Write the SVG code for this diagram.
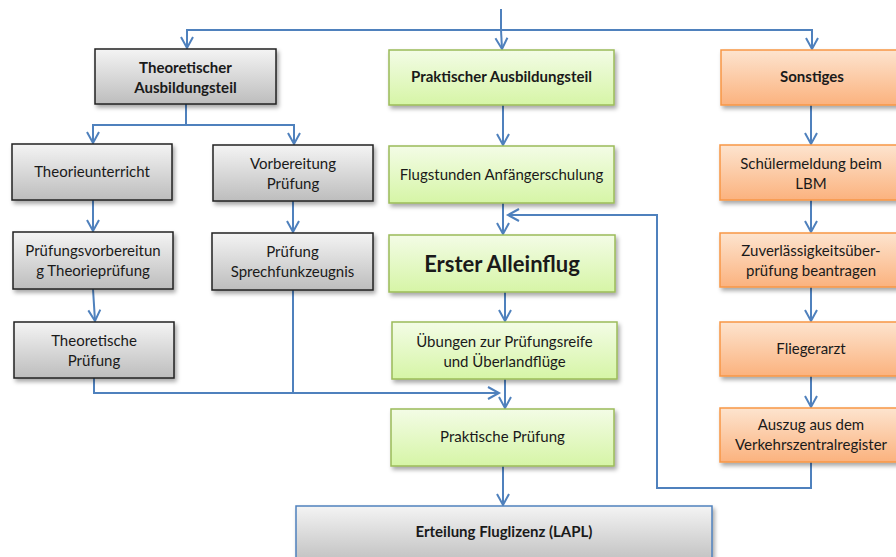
<svg xmlns="http://www.w3.org/2000/svg" width="896" height="557" viewBox="0 0 896 557">
<defs>
<linearGradient id="gGray" x1="0" y1="0" x2="0" y2="1"><stop offset="0" stop-color="#f4f4f4"/><stop offset="1" stop-color="#bdbdbd"/></linearGradient>
<linearGradient id="gGreen" x1="0" y1="0" x2="0" y2="1"><stop offset="0" stop-color="#f3fce6"/><stop offset="1" stop-color="#d6f5a6"/></linearGradient>
<linearGradient id="gOrange" x1="0" y1="0" x2="0" y2="1"><stop offset="0" stop-color="#fde4cf"/><stop offset="1" stop-color="#fbb27e"/></linearGradient>
<filter id="sh" x="-10%" y="-10%" width="130%" height="140%"><feDropShadow dx="2" dy="3" stdDeviation="2" flood-color="#000" flood-opacity="0.35"/></filter>
<marker id="ah" viewBox="0 0 12 12" refX="11" refY="6" markerWidth="12" markerHeight="12" markerUnits="userSpaceOnUse" orient="auto" overflow="visible">
<path d="M0,0 L11,6 L0,12" fill="none" stroke="#4F81BD" stroke-width="2"/>
</marker>
</defs>
<style>
.gray{fill:url(#gGray);stroke:#222;stroke-width:1.5;filter:url(#sh)}
.green{fill:url(#gGreen);stroke:#9BBB59;stroke-width:1.5;filter:url(#sh)}
.orange{fill:url(#gOrange);stroke:#F79646;stroke-width:1.5;filter:url(#sh)}
.final{fill:url(#gGray);stroke:#4F81BD;stroke-width:1.5;filter:url(#sh)}
text{font-family:Lato,"Open Sans","Liberation Sans",sans-serif;font-size:15px;fill:#1a1a1a;text-anchor:middle}
.b{font-weight:bold}
.big{font-weight:bold;font-size:22px}
.c path{fill:none;stroke:#4F81BD;stroke-width:2}
.a{marker-end:url(#ah)}
</style>
<g class="c" id="connectors">
<path d="M501,9 V30" stroke-width="3"/>
<path class="a" d="M501,30 L502,49"/>
<path class="a" d="M501,30 H187 V48"/>
<path class="a" d="M501,30 H812 V49"/>
<path class="a" d="M186,104 V125 H93 V143"/>
<path class="a" d="M186,125 H294 V144"/>
<path class="a" d="M93,200 V231"/>
<path class="a" d="M293,201 V232"/>
<path class="a" d="M93,289 L95,321"/>
<path class="a" d="M94,378 V393 H499"/>
<path d="M293,290 V393"/>
<path class="a" d="M503,105 V145"/>
<path class="a" d="M503,203 V234"/>
<path class="a" d="M505,292 V321"/>
<path class="a" d="M505,379 V408"/>
<path class="a" d="M503,466 V505"/>
<path class="a" d="M811,105 V144"/>
<path class="a" d="M811,200 V232"/>
<path class="a" d="M811,287 V321"/>
<path class="a" d="M811,376 V407"/>
<path class="a" d="M811,462 V488 H657 V215 H508"/>
</g>
<g id="theo-head"><rect class="gray" x="95" y="49" width="181" height="55"/><text class="b" x="185.5" y="73">Theoretischer</text><text class="b" x="185.5" y="93">Ausbildungsteil</text></g>
<g id="prak-head"><rect class="green" x="389" y="50" width="225" height="55"/><text class="b" x="501.5" y="82">Praktischer Ausbildungsteil</text></g>
<g id="sonst-head"><rect class="orange" x="721" y="50" width="182" height="55"/><text class="b" x="812" y="82">Sonstiges</text></g>
<g id="theorie"><rect class="gray" x="12" y="144" width="160" height="56"/><text x="92" y="177">Theorieunterricht</text></g>
<g id="vorb"><rect class="gray" x="213" y="145" width="160" height="56"/><text x="293" y="169">Vorbereitung</text><text x="293" y="189">Prüfung</text></g>
<g id="pvorb"><rect class="gray" x="13" y="232" width="160" height="57"/><text x="93" y="256">Prüfungsvorbereitun</text><text x="93" y="276">g Theorieprüfung</text></g>
<g id="sprech"><rect class="gray" x="212" y="233" width="161" height="57"/><text x="292.5" y="257">Prüfung</text><text x="292.5" y="277">Sprechfunkzeugnis</text></g>
<g id="theopr"><rect class="gray" x="14" y="322" width="160" height="56"/><text x="94" y="346">Theoretische</text><text x="94" y="366">Prüfung</text></g>
<g id="flug"><rect class="green" x="389" y="146" width="225" height="57"/><text x="501.5" y="180">Flugstunden Anfängerschulung</text></g>
<g id="erster"><rect class="green" x="389" y="235" width="226" height="57"/><text class="big" x="502" y="272">Erster Alleinflug</text></g>
<g id="uebungen"><rect class="green" x="392" y="322" width="225" height="57"/><text x="504.5" y="347">Übungen zur Prüfungsreife</text><text x="504.5" y="367">und Überlandflüge</text></g>
<g id="praktpr"><rect class="green" x="391" y="409" width="223" height="57"/><text x="502.5" y="442">Praktische Prüfung</text></g>
<g id="schueler"><rect class="orange" x="720" y="145" width="183" height="55"/><text x="811" y="169">Schülermeldung beim</text><text x="811" y="189">LBM</text></g>
<g id="zuverl"><rect class="orange" x="720" y="233" width="183" height="54"/><text x="811" y="256">Zuverlässigkeitsüber-</text><text x="811" y="276">prüfung beantragen</text></g>
<g id="arzt"><rect class="orange" x="720" y="322" width="183" height="54"/><text x="811" y="354">Fliegerarzt</text></g>
<g id="auszug"><rect class="orange" x="720" y="408" width="183" height="54"/><text x="811" y="430">Auszug aus dem</text><text x="811" y="450">Verkehrszentralregister</text></g>
<g id="erteilung"><rect class="final" x="296" y="506" width="416" height="60"/><text class="b" x="504" y="537">Erteilung Fluglizenz (LAPL)</text></g>
</svg>
